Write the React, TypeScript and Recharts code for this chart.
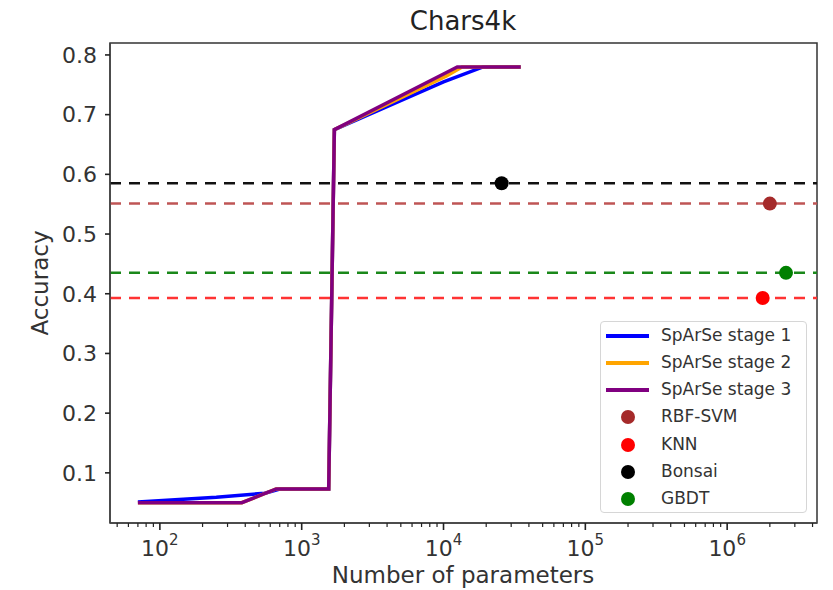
import React from 'react';
import {
  ComposedChart,
  Line,
  Scatter,
  XAxis,
  YAxis,
  ReferenceLine,
  ReferenceArea,
} from 'recharts';

// SpArSe curves (number of parameters vs accuracy)
const stage1X = [70, 250, 550, 700, 1550, 1700, 10000, 19000, 35000];
const stage1Y = [0.051, 0.059, 0.066, 0.073, 0.073, 0.675, 0.755, 0.78, 0.78];
const stage2X = [70, 378, 660, 1550, 1700, 10500, 13500, 35000];
const stage2Y = [0.05, 0.05, 0.073, 0.073, 0.675, 0.765, 0.78, 0.78];
const stage3X = [70, 378, 660, 1550, 1700, 11000, 12500, 35000];
const stage3Y = [0.05, 0.05, 0.073, 0.073, 0.675, 0.773, 0.78, 0.78];

// baselines: name, params, accuracy
const baselineNames = ['RBF-SVM', 'KNN', 'Bonsai', 'GBDT'];
const baselineParams = [2000000, 1780000, 25700, 2600000];
const baselineAcc = [0.551, 0.393, 0.585, 0.435];
const baselineColors = ['#a52a2a', '#ff0000', '#000000', '#008000'];
const baselineDash = ['#bf5555', '#ff3333', '#111111', '#1a881a'];

const stageNames = ['SpArSe stage 1', 'SpArSe stage 2', 'SpArSe stage 3'];
const stageColors = ['#0000ff', '#ffa500', '#800080'];

const xMajor = [100, 1000, 10000, 100000, 1000000];
const yTicks = [0.1, 0.2, 0.3, 0.4, 0.5, 0.6, 0.7, 0.8];
const xDomain = [44.5, 4300000];
const yDomain = [0.016, 0.82];

const font = '"DejaVu Sans", sans-serif';

const xTicks: number[] = [];
[10, ...xMajor].forEach((m) => {
  [1, 2, 3, 4, 5, 6, 7, 8, 9].forEach((k) => {
    const v = m * k;
    if (v >= xDomain[0] && v <= xDomain[1]) xTicks.push(v);
  });
});

const toPoints = (xs: number[], ys: number[]) => xs.map((x, i) => ({ x, y: ys[i] }));
const stages = [
  toPoints(stage1X, stage1Y),
  toPoints(stage2X, stage2Y),
  toPoints(stage3X, stage3Y),
];

const XTick = (props: any) => {
  const { x, y, payload } = props;
  const lg = Math.log10(payload.value);
  const e = Math.round(lg);
  const major = Math.abs(lg - e) < 1e-6;
  return (
    <g>
      <line x1={x} x2={x} y1={y} y2={y + (major ? 7 : 4)} stroke="#222" strokeWidth={major ? 1.6 : 1.2} />
      {major && (
        <text x={x} y={y + 33} textAnchor="middle" fontSize={22} fill="#333" fontFamily={font}>
          10
          <tspan dy={-11} fontSize={15}>
            {e}
          </tspan>
        </text>
      )}
    </g>
  );
};

const Legend = () => (
  <div
    style={{
      position: 'absolute',
      left: 600,
      top: 321,
      width: 207,
      height: 192,
      border: '1.5px solid #d6d6d6',
      borderRadius: 4,
      background: 'rgba(255,255,255,0.85)',
      boxSizing: 'border-box',
      fontFamily: font,
      fontSize: 17,
      color: '#333',
    }}
  >
    {stageNames.map((n, i) => (
      <div key={n} style={{ position: 'absolute', left: 0, top: 13.5 + 27.3 * i - 13, height: 26, width: '100%' }}>
        <div style={{ position: 'absolute', left: 5, top: 11, width: 43, height: 4, background: stageColors[i] }} />
        <span style={{ position: 'absolute', left: 60, top: 2, whiteSpace: 'nowrap' }}>{n}</span>
      </div>
    ))}
    {baselineNames.map((n, i) => (
      <div key={n} style={{ position: 'absolute', left: 0, top: 13.5 + 27.3 * (i + 3) - 13, height: 26, width: '100%' }}>
        <div
          style={{
            position: 'absolute',
            left: 20,
            top: 6,
            width: 14,
            height: 14,
            borderRadius: 7,
            background: baselineColors[i],
          }}
        />
        <span style={{ position: 'absolute', left: 60, top: 2, whiteSpace: 'nowrap' }}>{n}</span>
      </div>
    ))}
  </div>
);

export default function App() {
  return (
    <div style={{ position: 'absolute', left: 0, top: 0, width: 833, height: 590, background: '#fff', fontFamily: font }}>
      <ComposedChart width={833} height={590} margin={{ top: 43, right: 16, bottom: 0, left: 0 }}>
        <XAxis
          dataKey="x"
          type="number"
          scale="log"
          domain={xDomain}
          ticks={xTicks}
          interval={0}
          allowDataOverflow
          tick={<XTick />}
          tickSize={0}
          tickMargin={0}
          tickLine={false}
          axisLine={{ stroke: '#444', strokeWidth: 1.5 }}
          height={67}
        />
        <YAxis
          type="number"
          domain={yDomain}
          ticks={yTicks}
          allowDataOverflow
          width={110}
          tickSize={5}
          tickMargin={8}
          tickFormatter={(v: number) => v.toFixed(1)}
          tick={{ fontSize: 22, fill: '#333', fontFamily: font }}
          tickLine={{ stroke: '#222', strokeWidth: 1.6 }}
          axisLine={{ stroke: '#444', strokeWidth: 1.5 }}
        />
        <ReferenceArea
          x1={xDomain[0]}
          x2={xDomain[1]}
          y1={yDomain[0]}
          y2={yDomain[1]}
          fill="none"
          stroke="#333"
          strokeWidth={1.5}
        />
        {baselineAcc.map((a, i) => (
          <ReferenceLine
            key={baselineNames[i]}
            y={a}
            stroke={baselineDash[i]}
            strokeWidth={2.5}
            strokeDasharray="11 8"
          />
        ))}
        {stages.map((d, i) => (
          <Line
            key={stageNames[i]}
            data={d}
            dataKey="y"
            stroke={stageColors[i]}
            strokeWidth={3.5}
            dot={false}
            activeDot={false}
            isAnimationActive={false}
            strokeLinejoin="miter"
          />
        ))}
        {baselineNames.map((n, i) => (
          <Scatter
            key={n}
            data={[{ x: baselineParams[i], y: baselineAcc[i] }]}
            dataKey="y"
            isAnimationActive={false}
            shape={(p: any) => <circle cx={p.cx} cy={p.cy} r={7} fill={baselineColors[i]} />}
          />
        ))}
      </ComposedChart>
      <div
        style={{
          position: 'absolute',
          left: 463,
          top: 21,
          transform: 'translate(-50%,-50%)',
          fontSize: 26,
          color: '#222',
          whiteSpace: 'nowrap',
        }}
      >
        Chars4k
      </div>
      <div
        style={{
          position: 'absolute',
          left: 463,
          top: 575,
          transform: 'translate(-50%,-50%)',
          fontSize: 23,
          color: '#333',
          whiteSpace: 'nowrap',
        }}
      >
        Number of parameters
      </div>
      <div
        style={{
          position: 'absolute',
          left: 40,
          top: 283,
          transform: 'translate(-50%,-50%) rotate(-90deg)',
          fontSize: 23,
          color: '#333',
          whiteSpace: 'nowrap',
        }}
      >
        Accuracy
      </div>
      <Legend />
    </div>
  );
}
